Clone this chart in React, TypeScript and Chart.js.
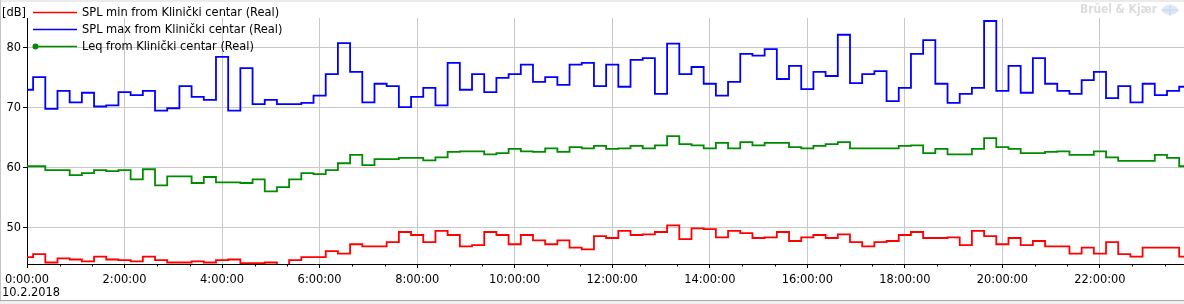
import { useEffect, useRef } from "react";
import { Chart, registerables } from "chart.js";

Chart.register(...registerables);

// ---- data (15-minute intervals starting 0:00:00) ----
const STEP_SECONDS = 900;
const X_MAX_SECONDS = 85406;

const xTickHours = [0, 2, 4, 6, 8, 10, 12, 14, 16, 18, 20, 22];
const xTickLabels = [
  "0:00:00", "2:00:00", "4:00:00", "6:00:00", "8:00:00", "10:00:00",
  "12:00:00", "14:00:00", "16:00:00", "18:00:00", "20:00:00", "22:00:00",
];
const minorTickMinutes = 40;
const yTickValues = [50, 60, 70, 80];
const yTickLabels = ["50", "60", "70", "80"];
const yMin = 43.85;
const yMax = 85;

const unitLabel = "[dB]";
const dateLabel = "10.2.2018";
const brandLabel = "Brüel & Kjær";

const seriesLabels = [
  "SPL min from Klinički centar (Real)",
  "SPL max from Klinički centar (Real)",
  "Leq from Klinički centar (Real)",
];
const seriesColors = ["#ff0000", "#0000ff", "#008c00"];

const splMin = [
  45.0, 45.5, 44.1, 44.8, 44.6, 44.3, 45.1, 44.6, 44.5, 44.3, 45.1, 44.5,
  44.1, 44.1, 44.3, 44.1, 44.5, 44.6, 44.0, 44.0, 44.1, 43.5, 44.5, 45.0,
  45.0, 46.0, 45.6, 47.15, 46.8, 46.8, 47.5, 49.2, 48.7, 47.5, 49.4, 48.7,
  46.8, 47.0, 49.2, 48.7, 47.15, 48.7, 47.8, 47.15, 47.8, 46.6, 46.3, 48.5,
  48.2, 49.4, 48.7, 48.8, 49.2, 50.3, 48.0, 49.8, 49.7, 48.3, 49.4, 49.0,
  48.2, 48.3, 49.2, 47.7, 48.3, 48.7, 48.2, 48.8, 47.5, 46.8, 47.5, 47.7,
  48.7, 49.2, 48.2, 48.2, 48.3, 47.0, 49.4, 48.5, 47.15, 48.2, 47.0, 47.7,
  46.8, 46.8, 45.6, 46.6, 45.6, 47.5, 45.5, 45.1, 46.6, 46.6, 46.6, 45.1,
];

const splMax = [
  73.0, 75.1, 69.8, 72.8, 70.9, 72.5, 70.2, 70.4, 72.6, 72.1, 72.8, 69.5,
  69.9, 73.6, 71.8, 71.3, 78.5, 69.5, 76.6, 70.6, 71.3, 70.6, 70.6, 70.8,
  72.0, 75.6, 80.8, 76.0, 70.9, 74.0, 73.6, 70.1, 71.8, 73.3, 70.4, 77.5,
  73.0, 75.6, 72.6, 75.0, 75.6, 77.2, 74.3, 75.1, 73.8, 77.2, 77.5, 73.6,
  77.2, 73.5, 78.0, 78.3, 72.3, 80.7, 75.6, 76.8, 74.0, 72.0, 74.3, 79.0,
  78.7, 79.8, 74.8, 77.0, 73.1, 76.0, 75.3, 82.2, 74.1, 75.6, 76.1, 71.1,
  73.3, 79.0, 81.3, 74.0, 70.8, 72.3, 73.3, 84.5, 72.8, 77.0, 72.5, 78.3,
  74.0, 72.8, 72.3, 74.6, 76.0, 71.6, 73.6, 70.9, 74.0, 72.1, 72.8, 73.5,
];

const leq = [
  60.2, 60.2, 59.55, 59.55, 58.7, 59.05, 59.55, 59.4, 59.55, 58.0, 59.7, 57.0,
  58.5, 58.5, 57.4, 58.4, 57.5, 57.5, 57.4, 58.0, 56.0, 56.7, 58.0, 59.05,
  58.9, 59.55, 60.7, 62.1, 60.4, 61.4, 61.4, 61.6, 61.6, 61.2, 61.7, 62.6,
  62.7, 62.7, 62.2, 62.4, 63.1, 62.7, 62.6, 63.2, 62.6, 63.4, 63.2, 63.6,
  63.1, 63.2, 63.6, 63.2, 63.7, 65.25, 63.9, 63.7, 63.2, 64.1, 63.2, 64.25,
  63.7, 64.1, 64.1, 63.4, 63.2, 63.6, 63.9, 64.25, 63.2, 63.2, 63.2, 63.2,
  63.6, 63.7, 62.4, 63.1, 62.2, 62.2, 63.1, 64.9, 63.4, 63.1, 62.4, 62.4,
  62.6, 62.7, 62.1, 62.1, 62.7, 61.7, 61.1, 61.1, 61.1, 62.1, 61.6, 60.2,
];

const FONT_FAMILY = "'DejaVu Sans Condensed', 'DejaVu Sans', sans-serif";
const FONT_SIZE = 12.7;
const LINE_WIDTH = 1.8;

function toPoints(values: number[]) {
  return values.map((v, i) => ({ x: i * STEP_SECONDS, y: v }));
}

const decorPlugin = {
  id: "decor",
  beforeDraw(chart: any) {
    const { ctx, width, height } = chart;
    ctx.save();
    ctx.fillStyle = "#ffffff";
    ctx.fillRect(0, 0, width, height);
    ctx.fillStyle = "#ebebeb";
    ctx.fillRect(0, 0, width, 2);
    ctx.fillStyle = "#f0f0f0";
    ctx.fillRect(0, 301, width, height - 301);
    ctx.fillStyle = "#a8a8a8";
    ctx.fillRect(0, 300, width, 1);
    ctx.fillStyle = "#c4c4c4";
    ctx.fillRect(0, 0, 1, 300);

    // watermark, fitted to its width in the reference
    ctx.font = `bold 13px ${FONT_FAMILY}`;
    const w = ctx.measureText(brandLabel).width;
    const size = (13 * 77) / w;
    ctx.font = `bold ${size}px ${FONT_FAMILY}`;
    ctx.fillStyle = "#dcdcdc";
    ctx.textAlign = "left";
    ctx.textBaseline = "middle";
    ctx.fillText(brandLabel, 1080, 10);
    ctx.strokeStyle = "#c6d8f0";
    ctx.fillStyle = "#dce8f6";
    ctx.lineWidth = 1;
    ctx.beginPath();
    ctx.ellipse(1170, 10, 8, 5, 0, 0, Math.PI * 2);
    ctx.fill();
    ctx.beginPath();
    ctx.moveTo(1161, 10);
    ctx.lineTo(1179, 10);
    ctx.moveTo(1170, 4);
    ctx.lineTo(1170, 16);
    ctx.stroke();
    ctx.restore();
  },
  afterDraw(chart: any) {
    const { ctx } = chart;
    const xs = chart.scales.x;
    const area = chart.chartArea;
    ctx.save();

    // minor ticks on the time axis
    ctx.strokeStyle = "#000000";
    ctx.lineWidth = 1;
    ctx.beginPath();
    const stepS = minorTickMinutes * 60;
    for (let t = 0; t <= X_MAX_SECONDS; t += stepS) {
      if (t % 7200 === 0) continue;
      const px = Math.round(xs.getPixelForValue(t)) + 0.5;
      ctx.moveTo(px, area.bottom);
      ctx.lineTo(px, area.bottom + 2.5);
    }
    ctx.stroke();

    ctx.font = `${FONT_SIZE}px ${FONT_FAMILY}`;
    ctx.fillStyle = "#000000";
    ctx.textAlign = "left";
    ctx.textBaseline = "middle";
    ctx.fillText(unitLabel, 2, 12.5);
    ctx.fillText(dateLabel, 2, 293);

    // legend overlay
    const rowY = [12.5, 29.5, 46.5];
    chart.data.datasets.forEach((ds: any, i: number) => {
      const y = rowY[i];
      ctx.strokeStyle = ds.borderColor;
      ctx.lineWidth = 1.5;
      ctx.beginPath();
      ctx.moveTo(33, y);
      ctx.lineTo(77, y);
      ctx.stroke();
      if (i === 2) {
        ctx.fillStyle = ds.borderColor;
        ctx.beginPath();
        ctx.arc(35.5, y, 3, 0, Math.PI * 2);
        ctx.fill();
      }
      ctx.fillStyle = "#000000";
      ctx.fillText(ds.label, 82, y);
    });
    ctx.restore();
  },
};

export default function App() {
  const canvasRef = useRef<HTMLCanvasElement | null>(null);

  useEffect(() => {
    document.body.style.margin = "0";
    const canvas = canvasRef.current;
    if (!canvas) return;

    const series = [splMin, splMax, leq];
    const chart = new Chart(canvas, {
      type: "line",
      data: {
        datasets: series.map((values, i) => ({
          label: seriesLabels[i],
          data: toPoints(values),
          borderColor: seriesColors[i],
          backgroundColor: seriesColors[i],
          borderWidth: LINE_WIDTH,
          pointRadius: 0,
          pointHoverRadius: 0,
          stepped: "middle" as const,
          fill: false,
        })),
      },
      options: {
        animation: false,
        responsive: false,
        devicePixelRatio: 1,
        events: [],
        layout: { padding: { left: 0, right: 0, top: 18, bottom: 0 } },
        plugins: {
          legend: { display: false },
          title: { display: false },
          tooltip: { enabled: false },
        },
        scales: {
          x: {
            type: "linear",
            min: 0,
            max: X_MAX_SECONDS,
            afterBuildTicks: (scale: any) => {
              scale.ticks = xTickHours.map((h) => ({ value: h * 3600 }));
            },
            afterFit: (scale: any) => {
              scale.height = 40;
            },
            ticks: {
              autoSkip: false,
              maxRotation: 0,
              minRotation: 0,
              padding: 4,
              color: "#000000",
              font: { family: FONT_FAMILY, size: FONT_SIZE },
              callback: (_v: any, idx: number) => xTickLabels[idx],
            },
            grid: {
              color: "#c8c8c8",
              lineWidth: 1,
              drawTicks: true,
              tickLength: 4,
              tickColor: "#000000",
            },
            border: { display: true, color: "#000000", width: 1 },
          },
          y: {
            type: "linear",
            min: yMin,
            max: yMax,
            afterBuildTicks: (scale: any) => {
              scale.ticks = yTickValues.map((v) => ({ value: v }));
            },
            afterFit: (scale: any) => {
              scale.width = 27;
            },
            ticks: {
              autoSkip: false,
              padding: 2,
              color: "#000000",
              font: { family: FONT_FAMILY, size: FONT_SIZE },
              callback: (_v: any, idx: number) => yTickLabels[idx],
            },
            grid: {
              color: "#c8c8c8",
              lineWidth: 1,
              drawTicks: true,
              tickLength: 4,
              tickColor: "#000000",
            },
            border: { display: true, color: "#000000", width: 1 },
          },
        },
      },
      plugins: [decorPlugin],
    });

    return () => {
      chart.destroy();
    };
  }, []);

  return (
    <div style={{ width: 1184, height: 304, position: "relative" }}>
      <canvas
        ref={canvasRef}
        width={1184}
        height={304}
        style={{ display: "block", width: 1184, height: 304 }}
      />
    </div>
  );
}
